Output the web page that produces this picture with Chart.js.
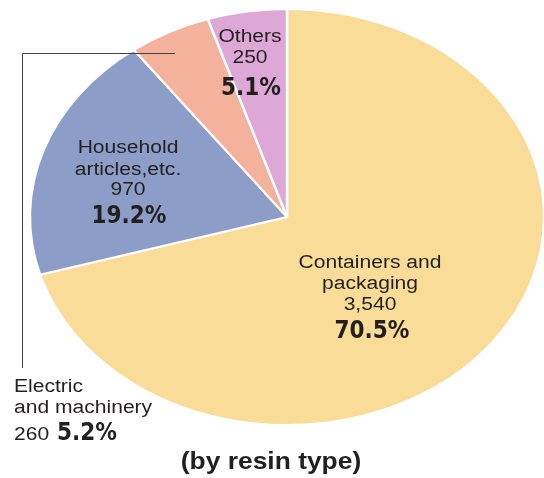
<!DOCTYPE html>
<html>
<head>
<meta charset="utf-8">
<script src="https://cdn.jsdelivr.net/npm/chart.js@4/dist/chart.umd.min.js"></script>
<style>
  html, body { margin: 0; padding: 0; background: #fff; }
  #wrap { width: 544px; height: 478px; position: relative; }
</style>
</head>
<body>
<div id="wrap"><canvas id="pie"></canvas></div>
<script>
// data, clockwise from 12 o'clock
const categories = ['Containers and packaging', 'Household articles,etc.', 'Electric and machinery', 'Others'];
const amounts = [3540, 970, 260, 250];
const amountLabels = ['3,540', '970', '260', '250'];
const shareLabels = ['70.5%', '19.2%', '5.2%', '5.1%'];
const sliceColors = ['#F9DC97', '#8C9DC7', '#F4B19C', '#DDA8D6'];

const STRETCH = 1.236;   // the picture is squashed into an ellipse
const TEXT_STRETCH = 1.17;
const BOLD_STRETCH = 0.9;
const REG = '18px "Liberation Sans", Arial, sans-serif';
const BOLD = 'bold 24px "DejaVu Sans", sans-serif';

function txt(ctx, s, x, y, font, align, sx) {
  ctx.save();
  ctx.font = font;
  ctx.fillStyle = '#231f20';
  ctx.textBaseline = 'middle';
  ctx.textAlign = align || 'center';
  ctx.translate(x, y);
  ctx.scale(sx || TEXT_STRETCH, 1);
  ctx.fillText(s, 0, 0);
  ctx.restore();
}

const ellipsePlugin = {
  id: 'ellipse',
  beforeDatasetsDraw(chart) {
    const arc = chart.getDatasetMeta(0).data[0];
    const ctx = chart.ctx;
    ctx.save();
    ctx.translate(arc.x, arc.y);
    ctx.scale(STRETCH, 1);
    ctx.translate(-arc.x, -arc.y);
  },
  afterDatasetsDraw(chart) {
    chart.ctx.restore();
  }
};

const labelPlugin = {
  id: 'labels',
  afterDraw(chart) {
    const ctx = chart.ctx;

    // containers
    txt(ctx, 'Containers and', 370, 263, REG);
    txt(ctx, 'packaging', 370, 284, REG);
    txt(ctx, amountLabels[0], 370, 305, REG);
    txt(ctx, shareLabels[0], 372, 332, BOLD, 'center', BOLD_STRETCH);

    // household
    txt(ctx, 'Household', 128, 148, REG);
    txt(ctx, 'articles,etc.', 128, 170, REG);
    txt(ctx, amountLabels[1], 128, 190, REG);
    txt(ctx, shareLabels[1], 129, 217, BOLD, 'center', BOLD_STRETCH);

    // others
    txt(ctx, 'Others', 250, 37, REG);
    txt(ctx, amountLabels[3], 250, 58, REG);
    txt(ctx, shareLabels[3], 251, 89, BOLD, 'center', BOLD_STRETCH);

    // electric, outside with leader line
    ctx.save();
    ctx.strokeStyle = '#444';
    ctx.lineWidth = 1;
    ctx.beginPath();
    ctx.moveTo(22.5, 368);
    ctx.lineTo(22.5, 53.5);
    ctx.lineTo(175, 53.5);
    ctx.stroke();
    ctx.restore();
    txt(ctx, 'Electric', 14, 387, REG, 'left');
    txt(ctx, 'and machinery', 14, 408, REG, 'left');
    txt(ctx, amountLabels[2], 14, 435, REG, 'left');
    txt(ctx, shareLabels[2], 57, 434, BOLD, 'left', BOLD_STRETCH);

    // caption
    txt(ctx, '(by resin type)', 271, 462, 'bold 24px "Liberation Sans", Arial, sans-serif', 'center', 1.1);
  }
};

new Chart(document.getElementById('pie'), {
  type: 'pie',
  data: {
    labels: categories,
    datasets: [{
      data: amounts,
      backgroundColor: sliceColors,
      borderColor: '#ffffff',
      borderWidth: 2,
      clip: false
    }]
  },
  options: {
    responsive: true,
    maintainAspectRatio: false,
    animation: false,
    radius: 208,
    layout: { padding: { left: 79, right: 49, top: 9, bottom: 53 } },
    plugins: {
      legend: { display: false },
      tooltip: { enabled: false },
      title: { display: false }
    }
  },
  plugins: [ellipsePlugin, labelPlugin]
});
</script>
</body>
</html>
